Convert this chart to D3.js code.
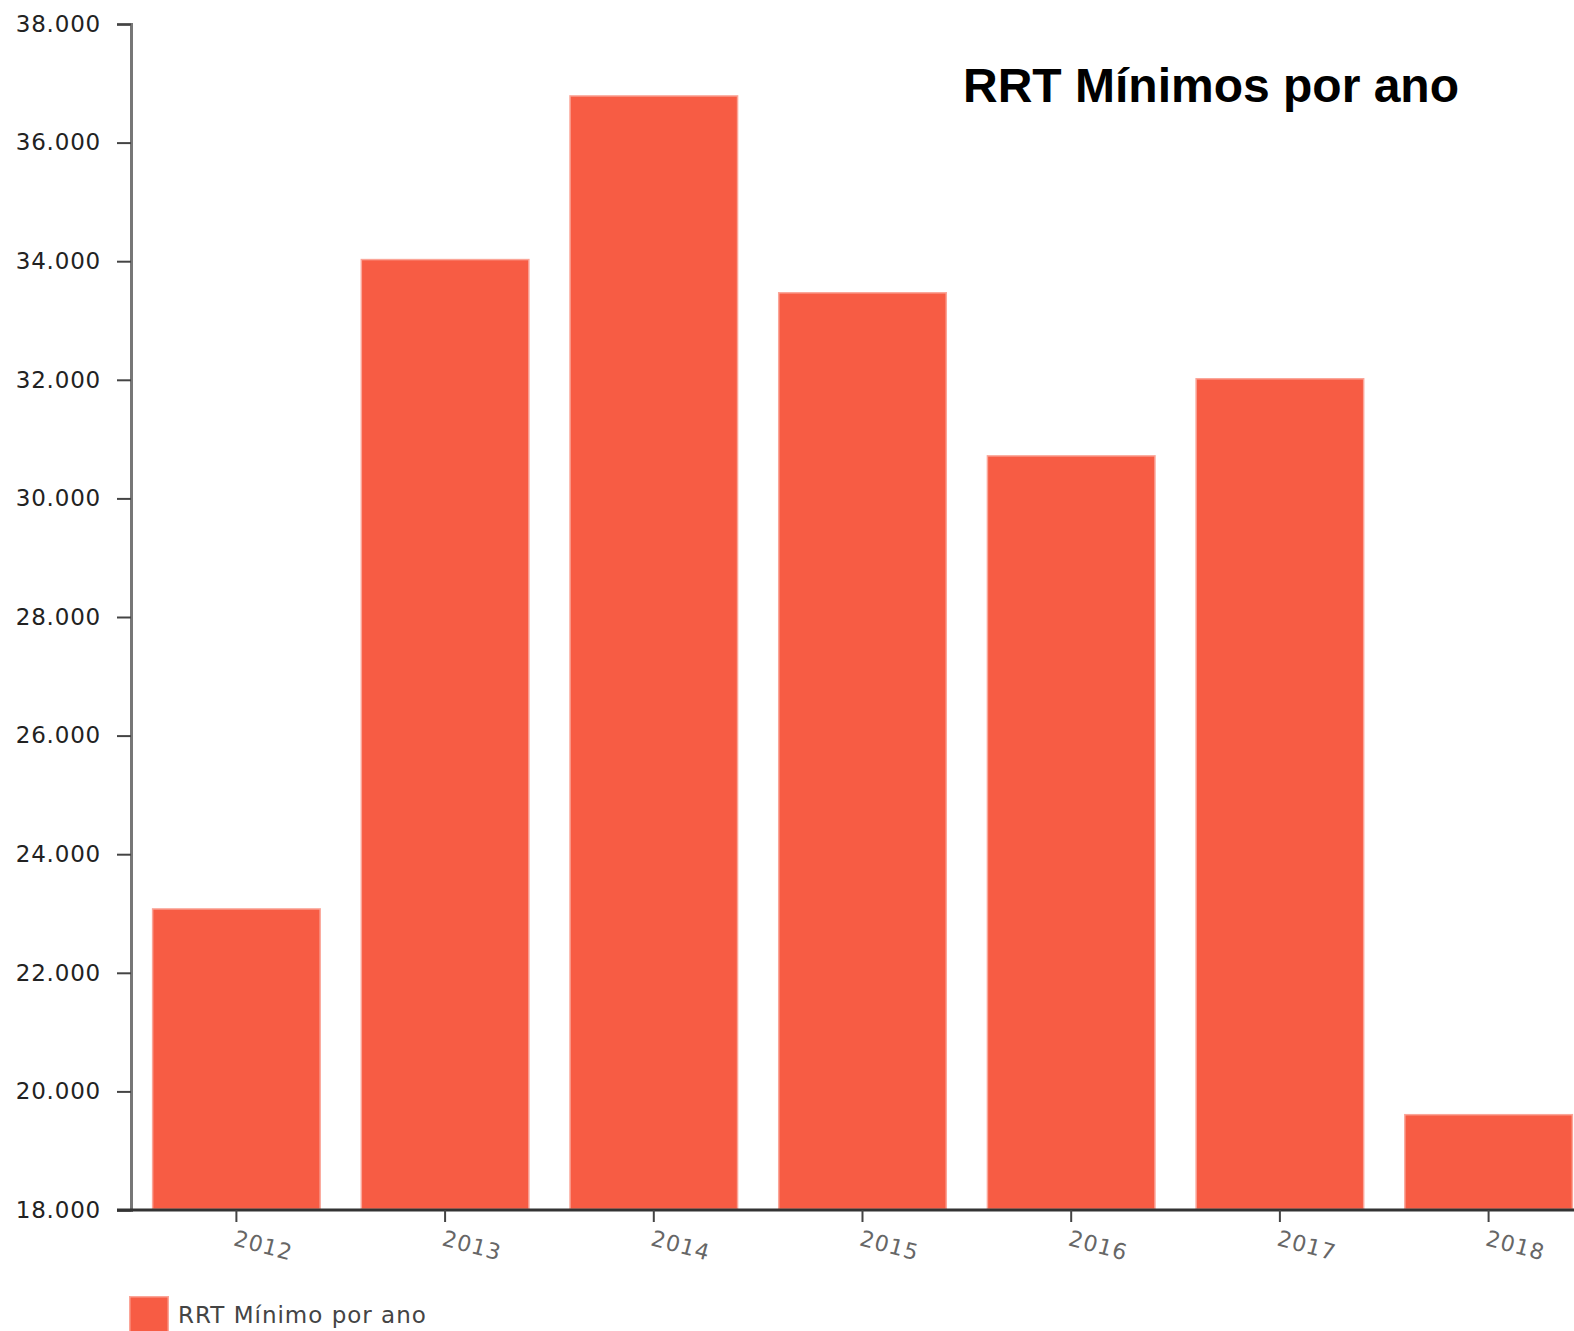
<!DOCTYPE html>
<html>
<head>
<meta charset="utf-8">
<script src="https://cdn.jsdelivr.net/npm/d3@7"></script>
<style>
  body { margin: 0; background: #fff; }
  svg { display: block; }
</style>
</head>
<body>
<div id="chart"></div>
<script>
// data
const years = ["2012", "2013", "2014", "2015", "2016", "2017", "2018"];
const rrtMinimo = [23090, 34040, 36800, 33480, 30730, 32030, 19620];
const yTicks = [18000, 20000, 22000, 24000, 26000, 28000, 30000, 32000, 34000, 36000, 38000];
const seriesName = "RRT Mínimo por ano";
const chartTitle = "RRT Mínimos por ano";

const width = 1574, height = 1331;
const margin = { top: 24, left: 131, bottom: 121 };
const barColor = "#f75c44";

const svg = d3.select("#chart").append("svg")
    .attr("width", width)
    .attr("height", height);

// scales
const x = d3.scaleBand()
    .domain(years)
    .range([margin.left, margin.left + 208.7 * 7.01])
    .paddingInner(0.19)
    .paddingOuter(0.1);

const y = d3.scaleLinear()
    .domain([18000, 38000])
    .range([height - margin.bottom, margin.top]);

const fmt = d => d3.format(",")(d).replace(/,/g, ".");

// bars
svg.append("g")
    .selectAll("rect")
    .data(rrtMinimo)
    .join("rect")
    .attr("x", (d, i) => x(years[i]))
    .attr("y", d => y(d))
    .attr("width", x.bandwidth())
    .attr("height", d => y(18000) - y(d))
    .attr("fill", barColor)
    .attr("stroke", "#fff")
    .attr("stroke-opacity", 0.45)
    .attr("stroke-width", 3);

// y axis
const yAxis = svg.append("g")
    .attr("transform", `translate(${margin.left},0)`)
    .call(d3.axisLeft(y).tickValues(yTicks).tickFormat(fmt).tickSize(14).tickPadding(16));
yAxis.select(".domain").attr("stroke", "#777").attr("stroke-width", 3);
yAxis.selectAll(".tick line").attr("stroke", "#444").attr("stroke-width", 2);
yAxis.selectAll(".tick text")
    .style("font-family", "'DejaVu Sans', Verdana, sans-serif")
    .style("font-size", "23px")
    .style("letter-spacing", "0.8px")
    .attr("fill", "#222");

// x axis
const xAxis = svg.append("g")
    .attr("transform", `translate(0,${y(18000)})`)
    .call(d3.axisBottom(x).tickSize(12).tickSizeOuter(0));
xAxis.select(".domain")
    .attr("d", `M${margin.left - 14},0H${width}`)
    .attr("stroke", "#333")
    .attr("stroke-width", 3);
xAxis.selectAll(".tick line").attr("stroke", "#444").attr("stroke-width", 2);
xAxis.selectAll(".tick text")
    .attr("text-anchor", "start")
    .attr("y", 0)
    .attr("dy", 0)
    .attr("transform", "translate(-4,35) rotate(15)")
    .style("font-family", "'DejaVu Sans', Verdana, sans-serif")
    .style("font-size", "22px")
    .style("letter-spacing", "1px")
    .attr("fill", "#666");

// title
svg.append("text")
    .attr("x", 963)
    .attr("y", 102)
    .text(chartTitle)
    .style("font-family", "'Liberation Sans', Arial, sans-serif")
    .style("font-weight", "bold")
    .style("font-size", "48px")
    .attr("fill", "#000");

// legend
const legend = svg.append("g")
    .attr("transform", `translate(129,1296)`);
legend.append("rect")
    .attr("width", 40)
    .attr("height", 40)
    .attr("fill", barColor)
    .attr("stroke", "#fff")
    .attr("stroke-opacity", 0.45)
    .attr("stroke-width", 3);
legend.append("text")
    .attr("x", 49)
    .attr("y", 27)
    .text(seriesName)
    .style("font-family", "'DejaVu Sans', Verdana, sans-serif")
    .style("font-size", "23px")
    .style("letter-spacing", "1px")
    .attr("fill", "#444");
</script>
</body>
</html>
